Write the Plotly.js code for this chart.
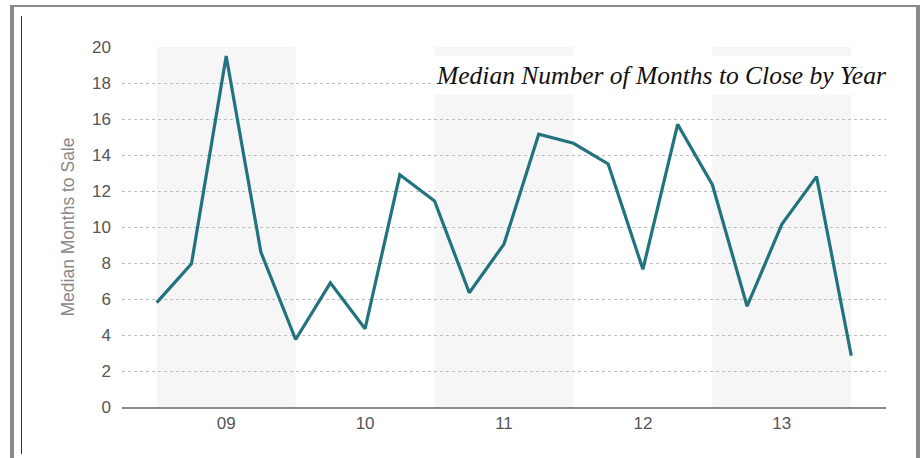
<!DOCTYPE html>
<html>
<head>
<meta charset="utf-8">
<script src="https://cdn.plot.ly/plotly-3.0.1.min.js"></script>
<style>
  html, body { margin: 0; padding: 0; background: #fff; }
  #wrap { position: relative; width: 922px; height: 458px; overflow: hidden; }
  #chart { position: absolute; left: 0; top: 0; width: 922px; height: 458px; }
  .frame { position: absolute; background: #8a8a8a; pointer-events: none; }
</style>
</head>
<body>
<div id="wrap">
  <div id="chart"></div>
  <div class="frame" style="left:10px; top:5px; width:908px; height:2px;"></div>
  <div class="frame" style="left:10px; top:5px; width:4px; height:453px;"></div>
  <div class="frame" style="left:916px; top:5px; width:4px; height:453px;"></div>
  <div class="frame" style="left:21px; top:16px; width:1px; height:438px; background:#333;"></div>
</div>
<script>
// Year categories and tick positions
const yearLabels = ["09", "10", "11", "12", "13"];
const yearTicks = [0, 1, 2, 3, 4];
// Quarter positions (year index based) of each observation
const quarterPos = [-0.5, -0.25, 0, 0.25, 0.5, 0.75, 1, 1.25, 1.5, 1.75, 2, 2.25, 2.5, 2.75, 3, 3.25, 3.5, 3.75, 4, 4.25, 4.5];
// Median months to sale
const medianMonths = [5.8, 7.95, 19.5, 8.6, 3.75, 6.9, 4.35, 12.9, 11.45, 6.35, 9.05, 15.15, 14.65, 13.5, 7.65, 15.7, 12.35, 5.6, 10.15, 12.8, 2.85];
// Shaded year bands (start, end) for 09, 11, 13
const bandStarts = [-0.5, 1.5, 3.5];
const bandEnds = [0.5, 2.5, 4.5];

const shapes = bandStarts.map((s, i) => ({
  type: "rect", xref: "x", yref: "paper",
  x0: s, x1: bandEnds[i], y0: 0, y1: 1,
  fillcolor: "#f6f6f6", line: { width: 0 }, layer: "below"
}));

const trace = {
  x: quarterPos, y: medianMonths,
  type: "scatter", mode: "lines",
  line: { color: "#23737f", width: 3.2 },
  hoverinfo: "skip"
};

const layout = {
  width: 922, height: 458,
  margin: { l: 122, r: 36, t: 47, b: 51 },
  paper_bgcolor: "rgba(0,0,0,0)",
  plot_bgcolor: "#ffffff",
  showlegend: false,
  font: { family: "Liberation Sans, Arial, sans-serif", color: "#555" },
  xaxis: {
    range: [-0.75, 4.75],
    tickvals: yearTicks, ticktext: yearLabels,
    showgrid: false, zeroline: false,
    showline: true, linecolor: "#8a8a8a", linewidth: 2,
    ticks: "", tickfont: { size: 17, color: "#555" },
    fixedrange: true
  },
  yaxis: {
    range: [0, 20], dtick: 2,
    showgrid: true, gridcolor: "#bdbdbd", griddash: "dot", gridwidth: 1,
    zeroline: false, showline: false, ticks: "",
    ticklabelstandoff: 10,
    tickfont: { size: 17, color: "#555" },
    title: { text: "Median Months to Sale", font: { size: 17.5, color: "#888" }, standoff: 12 },
    fixedrange: true
  },
  shapes: shapes,
  annotations: [{
    xref: "paper", yref: "paper",
    x: 1.007, y: 0.922, xanchor: "right", yanchor: "middle",
    text: "<i>Median Number of Months to Close by Year</i>",
    showarrow: false,
    font: { family: "Liberation Serif, Times New Roman, serif", size: 25.5, color: "#111" },
    bgcolor: "#ffffff", borderpad: 4
  }]
};

Plotly.newPlot("chart", [trace], layout, { displayModeBar: false, staticPlot: true });
</script>
</body>
</html>
